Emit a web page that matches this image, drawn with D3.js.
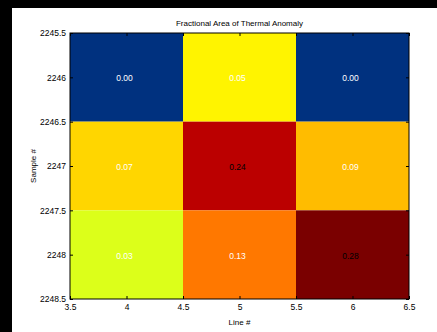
<!DOCTYPE html>
<html>
<head>
<meta charset="utf-8">
<script src="https://cdn.jsdelivr.net/npm/d3@7"></script>
<style>
  html, body { margin: 0; padding: 0; background: #000; }
  svg { display: block; }
  text { font-family: "Liberation Sans", Arial, sans-serif; }
</style>
</head>
<body>
<div id="chart"></div>
<script>
// Data.
const lines = [4, 5, 6];
const samples = [2246, 2247, 2248];
// fraction[row = sample][col = line]
const fraction = [
  [0.00, 0.05, 0.00],
  [0.07, 0.24, 0.09],
  [0.03, 0.13, 0.28],
];
const xTicks = [3.5, 4, 4.5, 5, 5.5, 6, 6.5];
const yTicks = [2245.5, 2246, 2246.5, 2247, 2247.5, 2248, 2248.5];

// Cell colours as they appear for each value.
const cellColor = d3.scaleOrdinal()
  .domain(["0.00", "0.03", "0.05", "0.07", "0.09", "0.13", "0.24", "0.28"])
  .range(["#00317f", "#dcff1a", "#fff400", "#ffd600", "#ffbc00", "#ff7800", "#bb0000", "#7a0000"]);

const width = 437, height = 332;
const margin = { top: 33, right: 28, bottom: 33, left: 70 };

const svg = d3.select("#chart").append("svg")
  .attr("width", width)
  .attr("height", height);

// white figure area on black
svg.append("rect")
  .attr("x", 12).attr("y", 8)
  .attr("width", width - 12).attr("height", height - 8)
  .attr("fill", "#fff");

const x = d3.scaleLinear().domain([3.5, 6.5]).range([margin.left, width - margin.right]);
const y = d3.scaleLinear().domain([2245.5, 2248.5]).range([margin.top, height - margin.bottom]);

const cells = [];
samples.forEach((s, i) => {
  lines.forEach((l, j) => {
    cells.push({ line: l, sample: s, value: fraction[i][j] });
  });
});

const g = svg.append("g");

g.selectAll("rect.cell")
  .data(cells)
  .join("rect")
  .attr("class", "cell")
  .attr("x", (d) => x(d.line - 0.5))
  .attr("y", (d) => y(d.sample - 0.5))
  .attr("width", (d) => x(d.line + 0.5) - x(d.line - 0.5))
  .attr("height", (d) => y(d.sample + 0.5) - y(d.sample - 0.5))
  .attr("fill", (d) => cellColor(d.value.toFixed(2)));

g.selectAll("text.val")
  .data(cells)
  .join("text")
  .attr("class", "val")
  .attr("x", (d) => x(d.line) - 2)
  .attr("y", (d) => y(d.sample) + 1)
  .attr("dy", "0.35em")
  .attr("text-anchor", "middle")
  .attr("font-size", 8.5)
  .attr("fill", (d) => (d.value >= 0.2 ? "#000" : "#fff"))
  .text((d) => d.value.toFixed(2));

// axes with ticks pointing inward
const tickLen = 3;
const fmt = (d) => String(d);

const xb = svg.append("g")
  .attr("transform", `translate(0,${height - margin.bottom})`)
  .call(d3.axisBottom(x).tickValues(xTicks).tickFormat(fmt).tickSize(-tickLen).tickSizeOuter(0).tickPadding(5));
const xt = svg.append("g")
  .attr("transform", `translate(0,${margin.top})`)
  .call(d3.axisTop(x).tickValues(xTicks).tickFormat("").tickSize(-tickLen).tickSizeOuter(0));
const yl = svg.append("g")
  .attr("transform", `translate(${margin.left},0)`)
  .call(d3.axisLeft(y).tickValues(yTicks).tickFormat(fmt).tickSize(-tickLen).tickSizeOuter(0).tickPadding(4));
const yr = svg.append("g")
  .attr("transform", `translate(${width - margin.right},0)`)
  .call(d3.axisRight(y).tickValues(yTicks).tickFormat("").tickSize(-tickLen).tickSizeOuter(0));

[xb, xt, yl, yr].forEach((a) => {
  a.select(".domain").remove();
  a.selectAll(".tick line").attr("stroke", "#000");
  a.selectAll(".tick text")
    .attr("font-size", 8.5)
    .attr("fill", "#000")
    .style("font-family", "'Liberation Sans', Arial, sans-serif");
});

// frame
svg.append("rect")
  .attr("x", x.range()[0])
  .attr("y", y.range()[0])
  .attr("width", x.range()[1] - x.range()[0])
  .attr("height", y.range()[1] - y.range()[0])
  .attr("fill", "none")
  .attr("stroke", "#000")
  .attr("stroke-width", 1);

// title and labels
svg.append("text")
  .attr("x", (x.range()[0] + x.range()[1]) / 2)
  .attr("y", 26)
  .attr("text-anchor", "middle")
  .attr("font-size", 8)
  .attr("fill", "#000")
  .text("Fractional Area of Thermal Anomaly");

svg.append("text")
  .attr("x", (x.range()[0] + x.range()[1]) / 2)
  .attr("y", 325)
  .attr("text-anchor", "middle")
  .attr("font-size", 8)
  .attr("fill", "#000")
  .text("Line #");

svg.append("text")
  .attr("transform", `translate(36,${(y.range()[0] + y.range()[1]) / 2}) rotate(-90)`)
  .attr("text-anchor", "middle")
  .attr("font-size", 8)
  .attr("fill", "#000")
  .text("Sample #");
</script>
</body>
</html>
